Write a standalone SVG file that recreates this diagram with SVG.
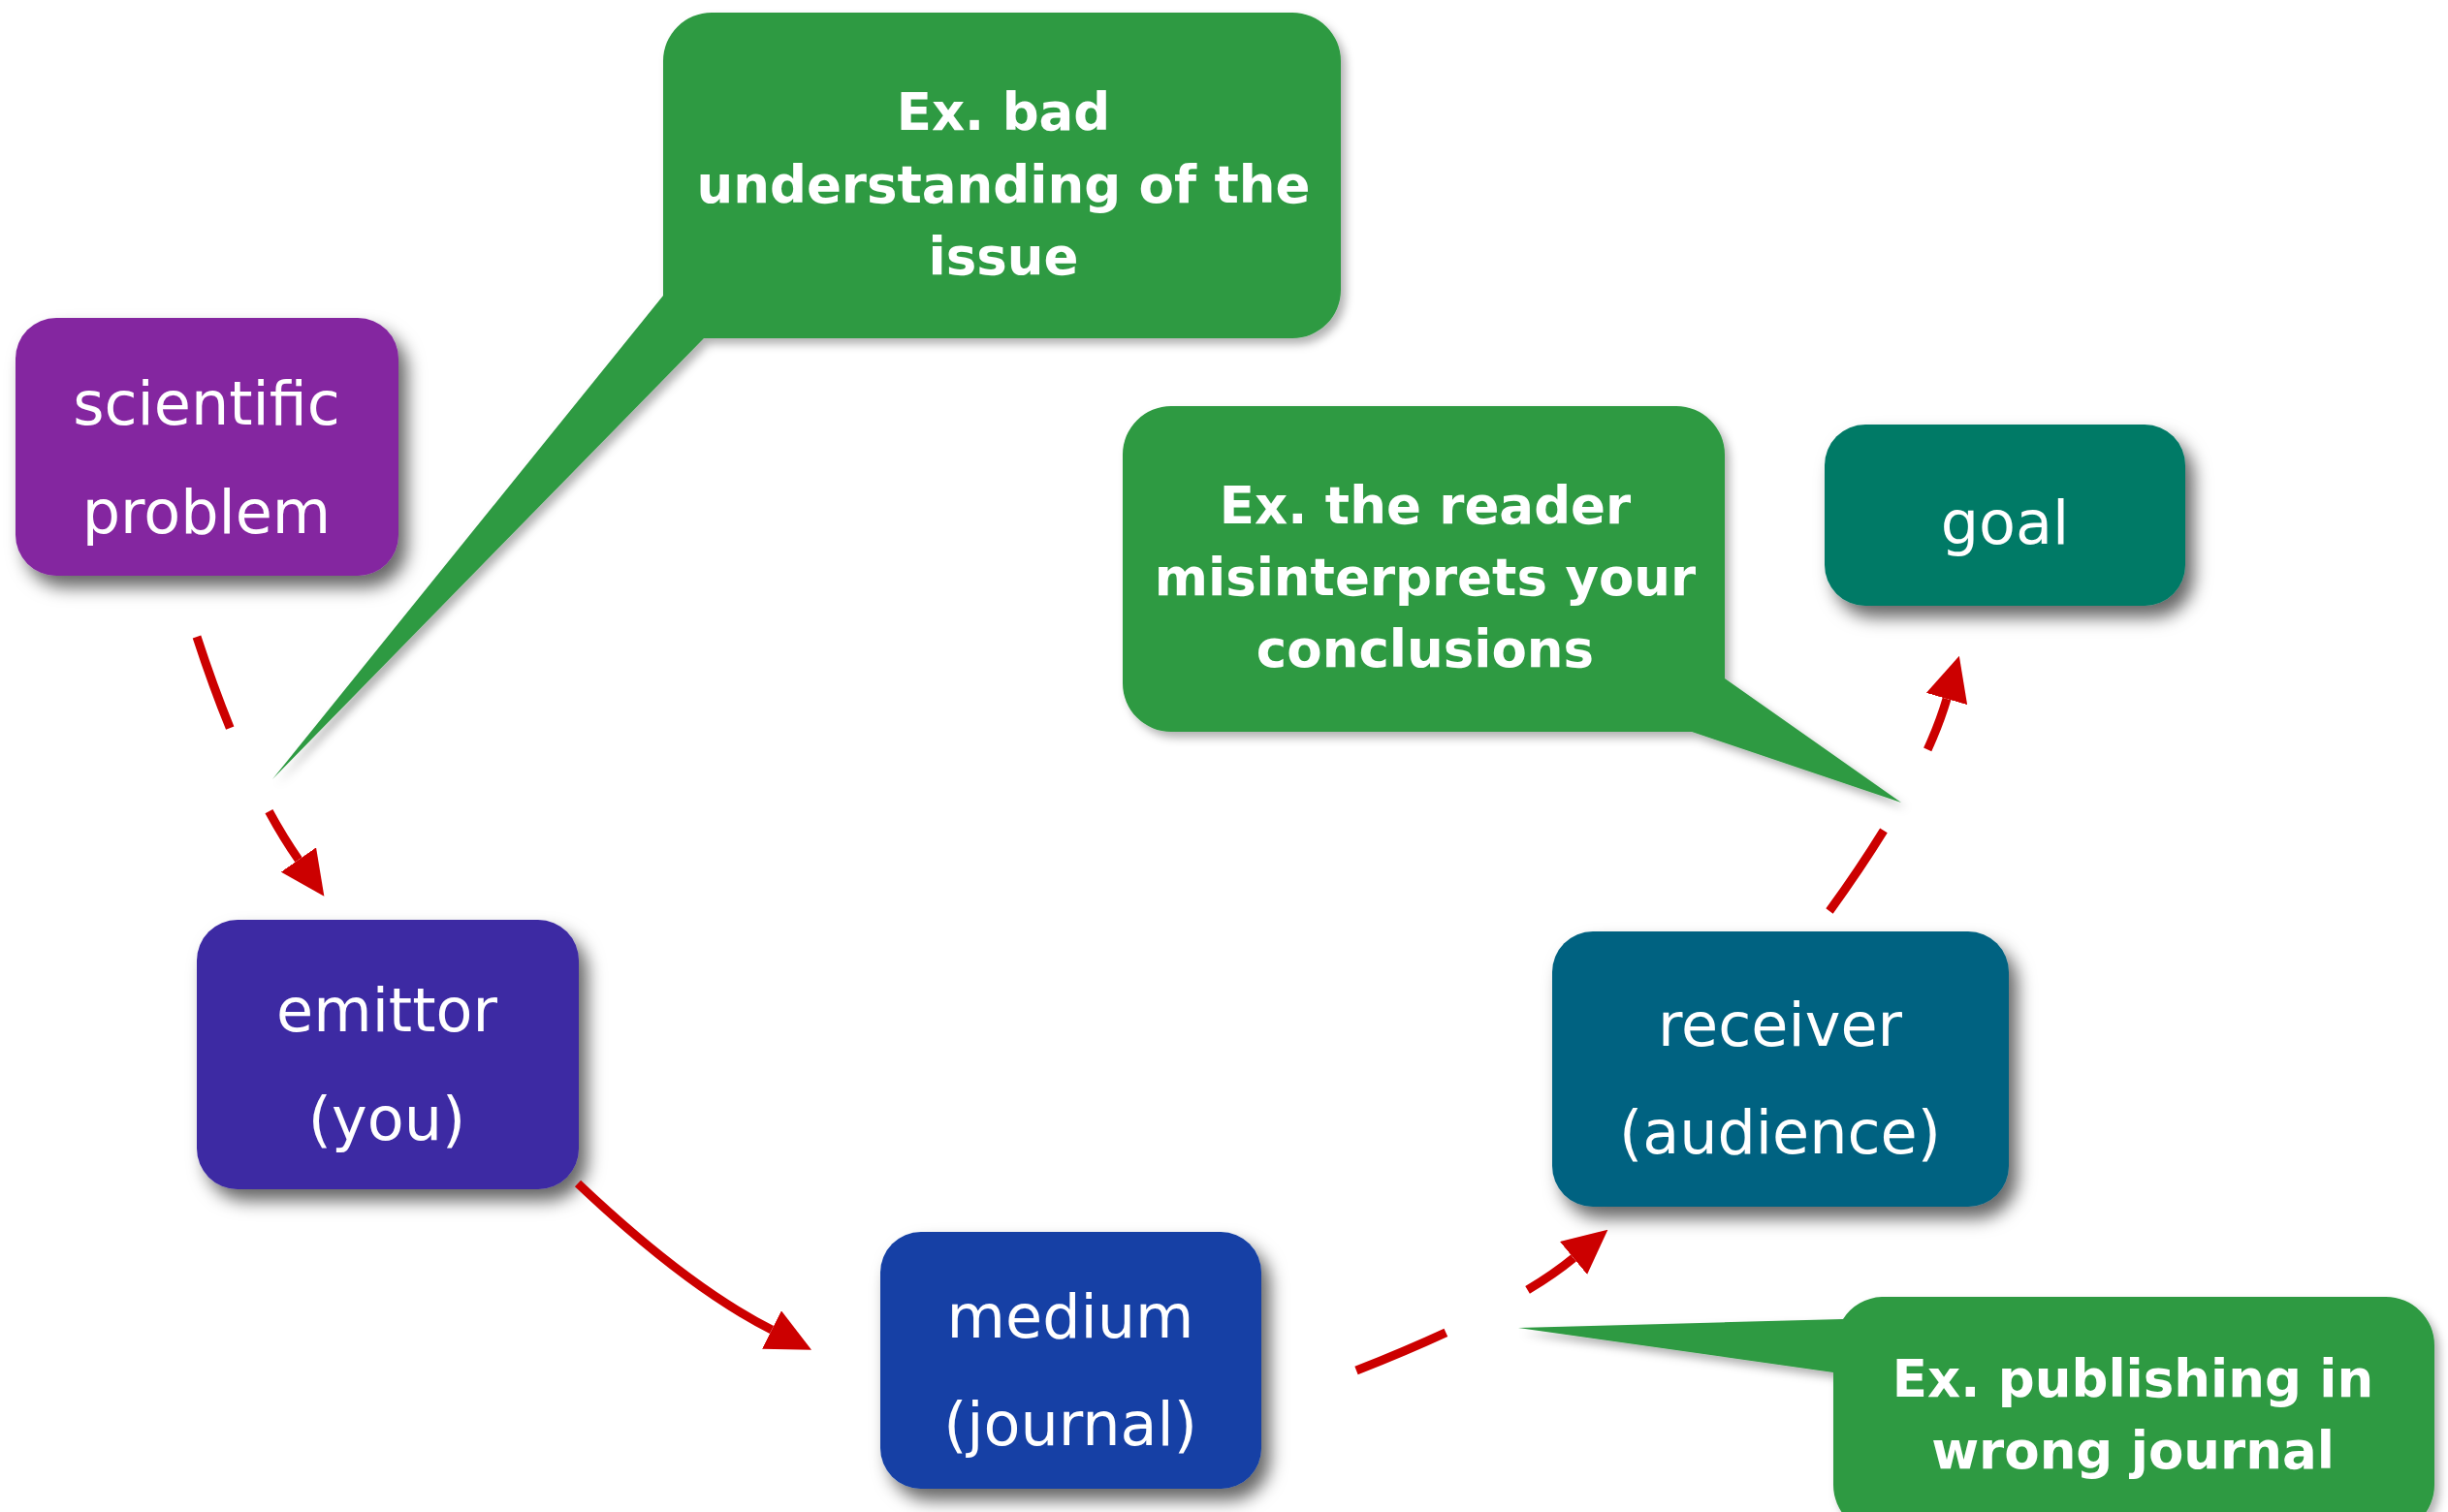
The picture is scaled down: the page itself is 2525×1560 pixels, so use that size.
<svg xmlns="http://www.w3.org/2000/svg" width="2525" height="1560" viewBox="0 0 2525 1560">
<defs>
<filter id="sh" x="-10%" y="-10%" width="130%" height="140%">
<feDropShadow dx="9" dy="12" stdDeviation="9" flood-color="#000" flood-opacity="0.6"/>
</filter>
<filter id="shc" x="-10%" y="-10%" width="130%" height="140%">
<feDropShadow dx="5" dy="6" stdDeviation="5" flood-color="#000" flood-opacity="0.3"/>
</filter>
<marker id="ah" markerUnits="userSpaceOnUse" viewBox="0 0 46 44" markerWidth="46" markerHeight="44" refX="0" refY="22" orient="auto">
<path d="M0,0 L46,22 L0,44 Z" fill="#cc0000"/>
</marker>
<style>
.node{font-family:"DejaVu Sans",sans-serif;font-size:62px;fill:#fff;text-anchor:middle}
.call{font-family:"DejaVu Sans",sans-serif;font-weight:bold;font-size:53px;fill:#fff;text-anchor:middle}
.bubble{fill:#2f9a42;filter:url(#shc)}
.box{filter:url(#sh)}
.conn{fill:none;stroke:#cc0000;stroke-width:9}
.dash{stroke-dasharray:100 95}
</style>
</defs>
<rect width="2525" height="1560" fill="#fff"/>

<g id="callout-issue">
<path class="bubble" d="M734,13 H1333 A50,50 0 0 1 1383,63 V299 A50,50 0 0 1 1333,349 H726 L281,804 L684,305 V63 A50,50 0 0 1 734,13 Z"/>
<text class="call" x="1035" y="134">Ex. bad</text>
<text class="call" x="1035" y="209">understanding of the</text>
<text class="call" x="1035" y="283">issue</text>
</g>

<g id="callout-reader">
<path class="bubble" d="M1208,419 H1729 A50,50 0 0 1 1779,469 V700 L1961,828 L1745,755 H1208 A50,50 0 0 1 1158,705 V469 A50,50 0 0 1 1208,419 Z"/>
<text class="call" x="1470" y="540">Ex. the reader</text>
<text class="call" x="1470" y="614">misinterprets your</text>
<text class="call" x="1470" y="688">conclusions</text>
</g>

<g id="callout-journal">
<path class="bubble" d="M1941,1338 H2461 A50,50 0 0 1 2511,1388 V1532 A50,50 0 0 1 2461,1582 H1941 A50,50 0 0 1 1891,1532 V1416 L1566,1370 L1901,1361 A50,50 0 0 1 1941,1338 Z"/>
<text class="call" x="2200" y="1441">Ex. publishing in</text>
<text class="call" x="2200" y="1515">wrong journal</text>
</g>

<g id="node-problem">
<rect class="box" x="16" y="328" width="395" height="266" rx="42" fill="#8427a0"/>
<text class="node" x="213" y="438">scientific</text>
<text class="node" x="213" y="550">problem</text>
</g>

<g id="node-emittor">
<rect class="box" x="203" y="949" width="394" height="278" rx="42" fill="#3d2aa3"/>
<text class="node" x="399" y="1064">emittor</text>
<text class="node" x="399" y="1176">(you)</text>
</g>

<g id="node-medium">
<rect class="box" x="908" y="1271" width="393" height="265" rx="42" fill="#123fa5"/>
<text class="node" x="1104" y="1380">medium</text>
<text class="node" x="1104" y="1491">(journal)</text>
</g>

<g id="node-receiver">
<rect class="box" x="1601" y="961" width="471" height="284" rx="42" fill="#006281"/>
<text class="node" x="1836" y="1079">receiver</text>
<text class="node" x="1836" y="1190">(audience)</text>
</g>

<g id="node-goal">
<rect class="box" x="1882" y="438" width="372" height="187" rx="42" fill="#037a66"/>
<text class="node" x="2068" y="561">goal</text>
</g>

<g id="connectors">
<path class="conn dash" d="M203,657 Q252,807 308,887" marker-end="url(#ah)"/>
<path class="conn" d="M596,1221 Q709,1328 796,1372" marker-end="url(#ah)"/>
<path class="conn dash" d="M1399,1414 Q1559,1351 1623,1298" marker-end="url(#ah)"/>
<path class="conn dash" d="M1887,940 Q1983,807 2008,721" marker-end="url(#ah)"/>
</g>
</svg>
